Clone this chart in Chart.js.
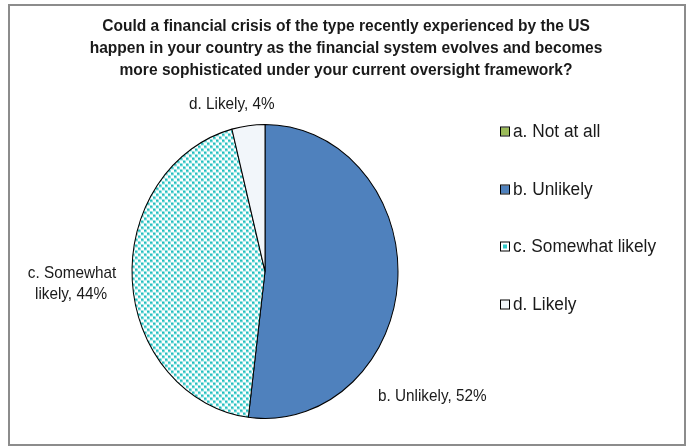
<!DOCTYPE html>
<html>
<head>
<meta charset="utf-8">
<script src="https://cdn.jsdelivr.net/npm/chart.js@4/dist/chart.umd.min.js"></script>
<style>
  html, body { margin: 0; padding: 0; background: #ffffff; }
  #wrap { width: 691px; height: 448px; position: relative; }
</style>
</head>
<body>
<div id="wrap"><canvas id="pie" width="691" height="448"></canvas></div>
<script>
// Survey answers and their shares (%)
const categories = ['a. Not at all', 'b. Unlikely', 'c. Somewhat likely', 'd. Likely'];
const shares = [0, 52, 44, 4];
const titleLines = [
  'Could a financial crisis of the type recently experienced by the US',
  'happen in your country as the financial system evolves and becomes',
  'more sophisticated under your current oversight framework?'
];

const Y_STRETCH = 1.105;

// Dotted cyan fill used for "Somewhat likely"
function dotPattern(ctx) {
  const t = document.createElement('canvas');
  t.width = 6; t.height = 6;
  const c = t.getContext('2d');
  c.fillStyle = '#ffffff';
  c.fillRect(0, 0, 6, 6);
  c.fillStyle = '#22c0c0';
  c.fillRect(0, 0, 2, 2);
  c.fillRect(3, 3, 2, 2);
  c.fillStyle = 'rgba(34,192,192,0.5)';
  c.fillRect(2, 0, 1, 3);
  c.fillRect(0, 2, 2, 1);
  c.fillRect(5, 3, 1, 3);
  c.fillRect(3, 5, 2, 1);
  const p = ctx.createPattern(t, 'repeat');
  // undo the vertical stretch applied while drawing the pie
  if (p.setTransform) p.setTransform(new DOMMatrix().scale(1, 1 / Y_STRETCH));
  return p;
}

const ctx0 = document.getElementById('pie').getContext('2d');
const fills = ['#9bbb59', '#4f81bd', dotPattern(ctx0), '#f2f6fa'];

const TEXT_FONT = '"Liberation Sans", Arial, sans-serif';

// draws text squeezed horizontally to get a condensed face
function narrowText(c, text, x, y, align, sx) {
  c.save();
  c.translate(x, y);
  c.scale(sx, 1);
  c.textAlign = align;
  c.fillText(text, 0, 0);
  c.restore();
}

// Frame, title, slice labels and legend
const decor = {
  id: 'decor',
  beforeDraw(chart) {
    const c = chart.ctx;
    c.save();
    c.fillStyle = '#ffffff';
    c.fillRect(0, 0, chart.width, chart.height);
    c.strokeStyle = '#8c8c8c';
    c.lineWidth = 2;
    c.strokeRect(9, 5, 676, 440);
    c.fillStyle = '#1a1a1a';
    c.font = 'bold 17px ' + TEXT_FONT;
    c.textBaseline = 'middle';
    titleLines.forEach((l, i) => narrowText(c, l, 346, 26 + i * 22, 'center', 0.915));
    c.restore();
  },
  beforeDatasetsDraw(chart) {
    const arc = chart.getDatasetMeta(0).data[1];
    const c = chart.ctx;
    c.save();
    c.translate(arc.x, arc.y);
    c.scale(1, Y_STRETCH);
    c.translate(-arc.x, -arc.y);
  },
  afterDatasetsDraw(chart) {
    const c = chart.ctx;
    c.restore();
    c.save();
    c.fillStyle = '#1a1a1a';
    c.textBaseline = 'middle';
    const ds = chart.data.datasets[0];
    // slice value labels
    c.font = '17px ' + TEXT_FONT;
    narrowText(c, categories[3] + ', ' + ds.data[3] + '%', 189, 104, 'left', 0.9);
    narrowText(c, 'c. Somewhat', 72, 273, 'center', 0.9);
    narrowText(c, 'likely, ' + ds.data[2] + '%', 71, 294, 'center', 0.9);
    narrowText(c, categories[1] + ', ' + ds.data[1] + '%', 378, 396, 'left', 0.9);
    // legend
    c.font = '18px ' + TEXT_FONT;
    const ys = [132, 190, 247, 305];
    categories.forEach((lab, i) => {
      const y = ys[i];
      if (i === 2) {
        c.fillStyle = '#ffffff';
        c.fillRect(501, y - 4.5, 8, 8);
        c.fillStyle = '#33c8c8';
        c.fillRect(503, y - 2.5, 4, 4);
      } else {
        c.fillStyle = ds.backgroundColor[i];
        c.fillRect(501, y - 4.5, 8, 8);
      }
      c.strokeStyle = '#000000';
      c.lineWidth = 1;
      c.strokeRect(500.5, y - 5, 9, 9);
      c.fillStyle = '#1a1a1a';
      narrowText(c, lab, 513, y, 'left', 0.96);
    });
    c.restore();
  }
};

new Chart(ctx0, {
  type: 'pie',
  data: {
    labels: categories,
    datasets: [{
      data: shares,
      backgroundColor: fills,
      borderColor: '#000000',
      borderWidth: 1,
      borderAlign: 'center'
    }]
  },
  options: {
    responsive: false,
    animation: false,
    events: [],
    layout: { padding: { left: 131, right: 292, top: 138, bottom: 43 } },
    plugins: {
      legend: { display: false },
      tooltip: { enabled: false },
      title: { display: false }
    }
  },
  plugins: [decor]
});
</script>
</body>
</html>
